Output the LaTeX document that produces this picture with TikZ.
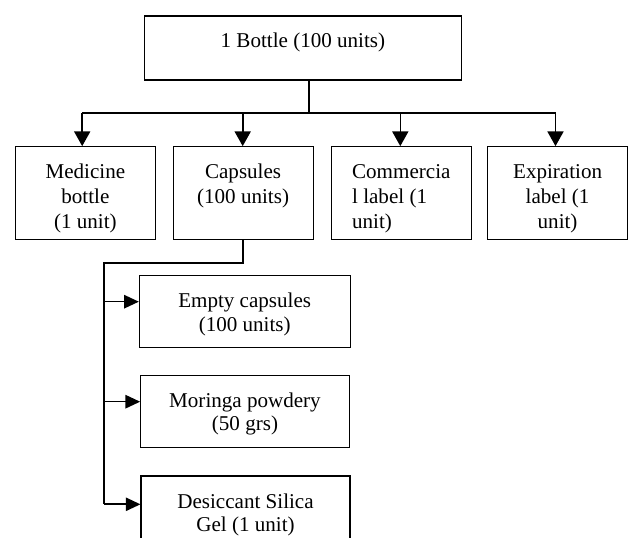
\documentclass[tikz,border=0pt]{standalone}
\usepackage{fontspec}
\setmainfont{Liberation Serif}
\usetikzlibrary{arrows.meta}
\newcommand\boxlines[3][c]{\raisebox{#2}[\height][\depth]{\begin{tabular}{@{}#1@{}}#3\end{tabular}}}
\begin{document}
\begin{tikzpicture}[x=0.75pt,y=-0.75pt,
  box/.style={draw,line width=0.8pt,inner sep=0pt,
    font=\fontsize{15.8}{18.75}\selectfont},
  toprow/.style={box,minimum width=105pt,minimum height=69.5pt},
  subbox/.style={box,minimum height=54pt,font=\fontsize{15.8}{17.6}\selectfont},
  conn/.style={line width=1.2pt},
  arr/.style={conn,-{Triangle[length=11pt,width=12pt]}},
  subarr/.style={conn,-{Triangle[length=11pt,width=10pt]}}]
\useasboundingbox (0,0) rectangle (629,538);
\begin{scope}
\clip (0,0) rectangle (629,538);
% top box
\node[box,minimum width=237.75pt,minimum height=48pt] (top) at (302.9,48) {\smash{1 Bottle (100 units)}};
% second row
\node[toprow] (med) at (85.4,193) {\boxlines{-4.5pt}{Medicine\\bottle\\(1 unit)}};
\node[toprow] (cap) at (243.1,193) {\boxlines{-4.5pt}{Capsules\\(100 units)\\\strut}};
\node[toprow] (com) at (401.3,193) {\boxlines[l]{-4.5pt}{Commercia\\l label (1\\unit)}};
\node[toprow] (exp) at (557.6,193) {\boxlines{-4.5pt}{Expiration\\label (1\\unit)}};
% sub boxes
\node[subbox,minimum width=158pt] (emp) at (244.7,311.7) {\boxlines{-2.5pt}{Empty capsules\\(100 units)}};
\node[subbox,minimum width=156.5pt] (mor) at (245,411.2) {\boxlines{-2.5pt}{Moringa powdery\\(50 grs)}};
\node[subbox,minimum width=156.75pt] (des) at (245.5,512) {\boxlines{-2.5pt}{Desiccant Silica\\Gel (1 unit)}};
% connectors from top
\coordinate (jt) at (309,113.3);
\coordinate (h1) at (82.2,113.3);
\coordinate (h2) at (242.7,113.3);
\coordinate (h3) at (400.3,113.3);
\coordinate (h4) at (555.5,113.3);
\draw[conn] (top.south -| jt) -- (jt);
\draw[conn] (h1) -- (h4);
\draw[arr] (h1) -- (h1 |- med.north);
\draw[arr] (h2) -- (h2 |- cap.north);
\draw[arr] (h3) -- (h3 |- com.north);
\draw[arr] (h4) -- (h4 |- exp.north);
% capsules branch
\coordinate (cA) at (242.7,263);
\coordinate (cB) at (104,263);
\coordinate (t1) at (104,301.7);
\coordinate (t2) at (104,401.7);
\coordinate (t3) at (104,504.3);
\draw[conn] (cap.south -| cA) -- (cA) -- (cB) -- (t3);
\draw[subarr] (t1) -- (t1 -| emp.west);
\draw[subarr] (t2) -- (t2 -| mor.west);
\draw[subarr] (t3) -- (t3 -| des.west);
\end{scope}
\end{tikzpicture}
\end{document}
